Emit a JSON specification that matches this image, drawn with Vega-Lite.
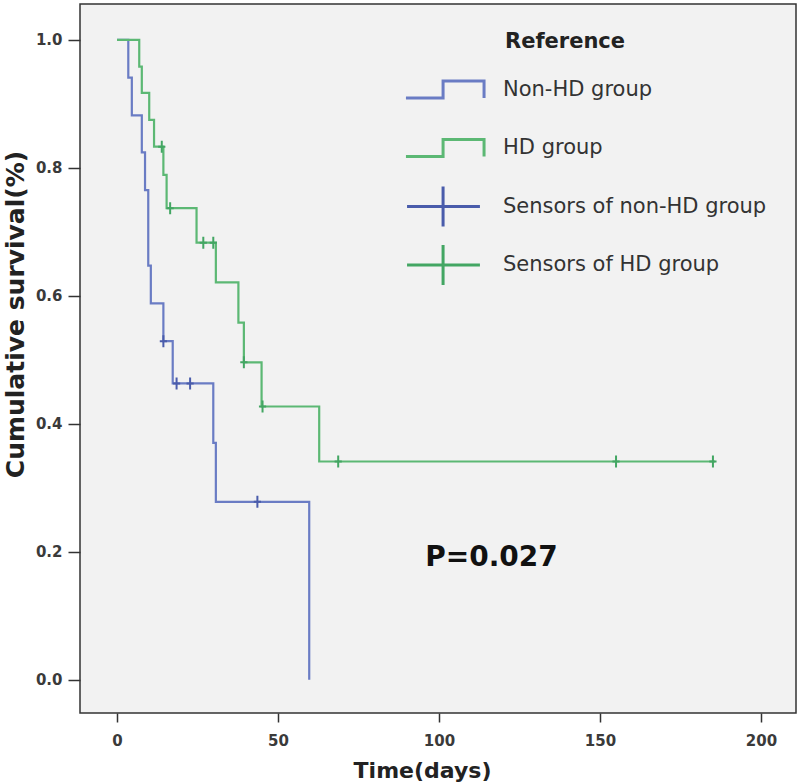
{
  "$schema": "https://vega.github.io/schema/vega-lite/v6.json",
  "width": 716,
  "height": 709,
  "autosize": "none",
  "padding": {"left": 80, "top": 4, "right": 4, "bottom": 69},
  "background": "white",
  "config": {
    "view": {"stroke": "#333333", "strokeWidth": 1.5, "fill": "#f2f2f2"},
    "font": "DejaVu Sans"
  },
  "datasets": {
    "curves": [
      {"series": "Non-HD group", "day": 0, "surv": 1.0},
      {"series": "Non-HD group", "day": 3.5, "surv": 0.941},
      {"series": "Non-HD group", "day": 4.6, "surv": 0.882},
      {"series": "Non-HD group", "day": 7.7, "surv": 0.824},
      {"series": "Non-HD group", "day": 8.7, "surv": 0.765},
      {"series": "Non-HD group", "day": 9.7, "surv": 0.647},
      {"series": "Non-HD group", "day": 10.5, "surv": 0.588},
      {"series": "Non-HD group", "day": 14.4, "surv": 0.529},
      {"series": "Non-HD group", "day": 17.3, "surv": 0.463},
      {"series": "Non-HD group", "day": 29.9, "surv": 0.370},
      {"series": "Non-HD group", "day": 30.7, "surv": 0.278},
      {"series": "Non-HD group", "day": 59.7, "surv": 0.0},
      {"series": "HD group", "day": 0, "surv": 1.0},
      {"series": "HD group", "day": 6.9, "surv": 0.958},
      {"series": "HD group", "day": 7.7, "surv": 0.917},
      {"series": "HD group", "day": 10.0, "surv": 0.875},
      {"series": "HD group", "day": 11.5, "surv": 0.833},
      {"series": "HD group", "day": 14.4, "surv": 0.789},
      {"series": "HD group", "day": 15.4, "surv": 0.737},
      {"series": "HD group", "day": 24.7, "surv": 0.683},
      {"series": "HD group", "day": 30.7, "surv": 0.621},
      {"series": "HD group", "day": 37.7, "surv": 0.558},
      {"series": "HD group", "day": 39.4, "surv": 0.496},
      {"series": "HD group", "day": 44.9, "surv": 0.427},
      {"series": "HD group", "day": 62.8, "surv": 0.341},
      {"series": "HD group", "day": 185.7, "surv": 0.341}
    ],
    "censors": [
      {"series": "Sensors of non-HD group", "day": 14.4, "surv": 0.529},
      {"series": "Sensors of non-HD group", "day": 18.5, "surv": 0.463},
      {"series": "Sensors of non-HD group", "day": 22.7, "surv": 0.463},
      {"series": "Sensors of non-HD group", "day": 43.6, "surv": 0.278},
      {"series": "Sensors of HD group", "day": 13.9, "surv": 0.833},
      {"series": "Sensors of HD group", "day": 16.5, "surv": 0.737},
      {"series": "Sensors of HD group", "day": 26.8, "surv": 0.683},
      {"series": "Sensors of HD group", "day": 29.9, "surv": 0.683},
      {"series": "Sensors of HD group", "day": 39.4, "surv": 0.496},
      {"series": "Sensors of HD group", "day": 45.2, "surv": 0.427},
      {"series": "Sensors of HD group", "day": 68.7, "surv": 0.341},
      {"series": "Sensors of HD group", "day": 155.0, "surv": 0.341},
      {"series": "Sensors of HD group", "day": 185.1, "surv": 0.341}
    ],
    "notes": [{"label": "P=0.027"}]
  },
  "layer": [
    {
      "data": {"name": "curves"},
      "mark": {"type": "line", "interpolate": "step-after", "strokeWidth": 2.2},
      "encoding": {
        "x": {
          "field": "day", "type": "quantitative",
          "scale": {"domain": [-11.5, 210.9], "nice": false, "zero": false},
          "axis": {
            "title": "Time(days)", "values": [0, 50, 100, 150, 200], "grid": false, "domain": false,
            "tickSize": 9, "tickWidth": 1.5, "tickColor": "#333333",
            "labelPadding": 11, "labelFont": "DejaVu Sans", "labelFontSize": 15, "labelFontWeight": "bold", "labelColor": "#3a3a3a",
            "titleFont": "DejaVu Sans", "titleFontSize": 22, "titleFontWeight": "bold", "titleColor": "#222222",
            "titleX": 342, "titleY": 64, "titleBaseline": "alphabetic"
          }
        },
        "y": {
          "field": "surv", "type": "quantitative",
          "scale": {"domain": [-0.052, 1.056], "nice": false, "zero": false},
          "axis": {
            "title": "Cumulative survival(%)", "values": [0, 0.2, 0.4, 0.6, 0.8, 1.0], "format": ".1f", "grid": false, "domain": false,
            "tickSize": 12, "tickWidth": 1.5, "tickColor": "#333333",
            "labelPadding": 6, "labelFont": "DejaVu Sans", "labelFontSize": 15, "labelFontWeight": "bold", "labelColor": "#3a3a3a",
            "titleFont": "DejaVu Sans", "titleFontSize": 25, "titleFontWeight": "bold", "titleColor": "#222222",
            "titleX": -57, "titleY": 310, "titleBaseline": "alphabetic"
          }
        },
        "color": {
          "field": "series", "type": "nominal",
          "scale": {
            "domain": ["Non-HD group", "HD group", "Sensors of non-HD group", "Sensors of HD group"],
            "range": ["#6a7cc4", "#5cb874", "#4a5cab", "#43a663"]
          },
          "legend": {
            "title": "Reference",
            "orient": "none",
            "legendX": 336,
            "legendY": 26.5,
            "padding": 0,
            "symbolSize": 3025,
            "symbolStrokeWidth": 3,
            "labelOffset": 29,
            "rowPadding": 2.5,
            "titlePadding": 9,
            "titleFont": "DejaVu Sans", "titleFontSize": 21, "titleFontWeight": "bold", "titleColor": "#222222",
            "labelFont": "DejaVu Sans", "labelFontSize": 21, "labelColor": "#333333", "labelLimit": 400,
            "encode": {
              "title": {"update": {"dx": {"value": 89}}},
              "symbols": {"update": {
                "shape": {"signal": "indexof(datum.value, 'Sensors') === 0 ? 'M-1.38,0H1.27M-0.07,-0.73V0.73' : 'M0,-0.73M0,0.73M-1.42,0.31H-0.07V-0.31H1.42V0.31'"},
                "fill": {"value": "transparent"},
                "strokeWidth": {"value": 3},
                "opacity": {"value": 1}
              }}
            }
          }
        }
      }
    },
    {
      "data": {"name": "censors"},
      "mark": {"type": "point", "shape": "M0,-1V1M-0.6,0H0.6", "filled": false, "size": 144, "strokeWidth": 2, "opacity": 1},
      "encoding": {
        "x": {"field": "day", "type": "quantitative"},
        "y": {"field": "surv", "type": "quantitative"},
        "color": {"field": "series", "type": "nominal"}
      }
    },
    {
      "data": {"name": "notes"},
      "mark": {"type": "text", "font": "DejaVu Sans", "fontSize": 28, "fontWeight": "bold", "color": "#111111", "align": "center", "baseline": "middle"},
      "encoding": {
        "x": {"datum": 116.3, "type": "quantitative"},
        "y": {"datum": 0.19, "type": "quantitative"},
        "text": {"field": "label"}
      }
    }
  ]
}
